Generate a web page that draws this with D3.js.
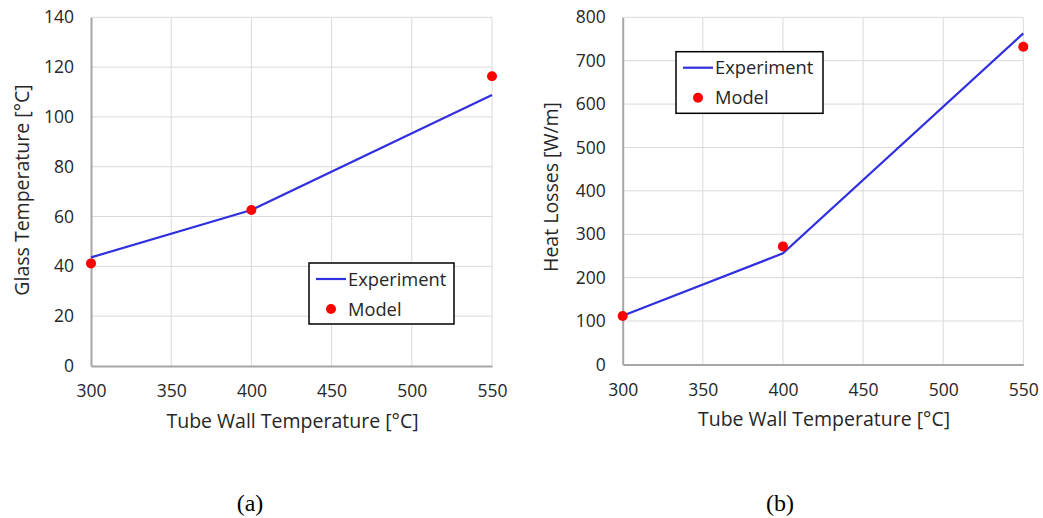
<!DOCTYPE html>
<html>
<head>
<meta charset="utf-8">
<script src="https://cdn.jsdelivr.net/npm/d3@7"></script>
<style>
  html, body { margin: 0; padding: 0; background: #fff; }
  svg { display: block; }
  .tick text { font-family: "Open Sans", "Liberation Sans", sans-serif; }
</style>
</head>
<body>
<svg id="chart" width="1043" height="518"></svg>
<script>
// Tube wall temperature (x) shared by both panels
const wallTemps = [300, 400, 550];

// Panel (a): glass temperature [°C]
const glassExperiment = [43.6, 62.6, 108.8];
const glassModel = [41.2, 62.6, 116.3];

// Panel (b): heat losses [W/m]
const lossExperiment = [112, 256, 763];
const lossModel = [111.5, 272, 732];

// Tick labels
const xTicks = [300, 350, 400, 450, 500, 550];
const glassTicks = [0, 20, 40, 60, 80, 100, 120, 140];
const lossTicks = [0, 100, 200, 300, 400, 500, 600, 700, 800];

const svg = d3.select("#chart");
const FONT = '"Open Sans", "Liberation Sans", sans-serif';
const TEXT = "#262626";

function panel(opts) {
  const { x0, x1, yTop, yBot, yMax, yTicks, yTitle, yTitleX, yTitleY, exp, mod, legend, caption, captionX } = opts;
  const x = d3.scaleLinear().domain([300, 550]).range([x0, x1]);
  const y = d3.scaleLinear().domain([0, yMax]).range([yBot, yTop]);
  const g = svg.append("g");

  // gridlines
  g.append("g").selectAll("line").data(yTicks.slice(1)).join("line")
    .attr("x1", x0).attr("x2", x1)
    .attr("y1", d => y(d)).attr("y2", d => y(d))
    .attr("stroke", "#d9d9d9").attr("stroke-width", 1);
  g.append("g").selectAll("line").data(xTicks.slice(1)).join("line")
    .attr("x1", d => x(d)).attr("x2", d => x(d))
    .attr("y1", yTop).attr("y2", yBot)
    .attr("stroke", "#d9d9d9").attr("stroke-width", 1);

  // axes
  const xAxis = g.append("g").attr("transform", `translate(0,${yBot})`)
    .call(d3.axisBottom(x).tickValues(xTicks).tickSize(0).tickPadding(19));
  xAxis.select(".domain").attr("stroke", "#a6a6a6").attr("stroke-width", 2);
  xAxis.selectAll("text").attr("font-size", 17.5).attr("fill", TEXT);

  const yAxis = g.append("g").attr("transform", `translate(${x0},0)`)
    .call(d3.axisLeft(y).tickValues(yTicks).tickSize(0).tickPadding(17));
  yAxis.select(".domain").attr("stroke", "#a6a6a6").attr("stroke-width", 2);
  yAxis.selectAll("text").attr("font-size", 17.5).attr("fill", TEXT);

  // axis titles
  g.append("text")
    .attr("x", (x0 + x1) / 2 + 1).attr("y", yBot + 62)
    .attr("text-anchor", "middle")
    .attr("font-family", FONT).attr("font-size", 19.5).attr("fill", TEXT)
    .text("Tube Wall Temperature [°C]");
  g.append("text")
    .attr("transform", `translate(${yTitleX},${yTitleY}) rotate(-90)`)
    .attr("text-anchor", "middle")
    .attr("font-family", FONT).attr("font-size", 19.5).attr("fill", TEXT)
    .text(yTitle);

  // experiment line
  const line = d3.line().x((d, i) => x(wallTemps[i])).y(d => y(d));
  g.append("path").datum(exp)
    .attr("d", line).attr("fill", "none")
    .attr("stroke", "#3030e0").attr("stroke-width", 2.2);

  // model points
  g.append("g").selectAll("circle").data(mod).join("circle")
    .attr("cx", (d, i) => x(wallTemps[i])).attr("cy", d => y(d))
    .attr("r", 5).attr("fill", "#ff0000");

  // legend
  const lg = g.append("g").attr("transform", `translate(${legend.x},${legend.y})`);
  lg.append("rect").attr("width", legend.w).attr("height", legend.h)
    .attr("fill", "#fff").attr("stroke", "#000").attr("stroke-width", 1.5);
  lg.append("line").attr("x1", 7).attr("x2", 37).attr("y1", 16).attr("y2", 16)
    .attr("stroke", "#3030e0").attr("stroke-width", 2.2);
  lg.append("text").attr("x", 39).attr("y", 22.5)
    .attr("font-family", FONT).attr("font-size", 18.3).attr("fill", TEXT)
    .text("Experiment");
  lg.append("circle").attr("cx", 22).attr("cy", 46).attr("r", 5).attr("fill", "#ff0000");
  lg.append("text").attr("x", 39).attr("y", 52.5)
    .attr("font-family", FONT).attr("font-size", 18.3).attr("fill", TEXT)
    .text("Model");

  // panel caption
  svg.append("text")
    .attr("x", captionX).attr("y", 511)
    .attr("text-anchor", "middle")
    .attr("font-family", '"Liberation Serif", "DejaVu Serif", serif')
    .attr("font-size", 24).attr("fill", "#000")
    .text(caption);
}

panel({
  x0: 91, x1: 492, yTop: 17.3, yBot: 366, yMax: 140, yTicks: glassTicks,
  yTitle: "Glass Temperature [°C]", yTitleX: 29, yTitleY: 190,
  exp: glassExperiment, mod: glassModel,
  legend: { x: 309, y: 263, w: 145, h: 61 },
  caption: "(a)", captionX: 250
});

panel({
  x0: 622.7, x1: 1023.3, yTop: 17.3, yBot: 364.4, yMax: 800, yTicks: lossTicks,
  yTitle: "Heat Losses [W/m]", yTitleX: 558, yTitleY: 187,
  exp: lossExperiment, mod: lossModel,
  legend: { x: 676, y: 51.7, w: 147, h: 61.6 },
  caption: "(b)", captionX: 780
});
</script>
</body>
</html>
